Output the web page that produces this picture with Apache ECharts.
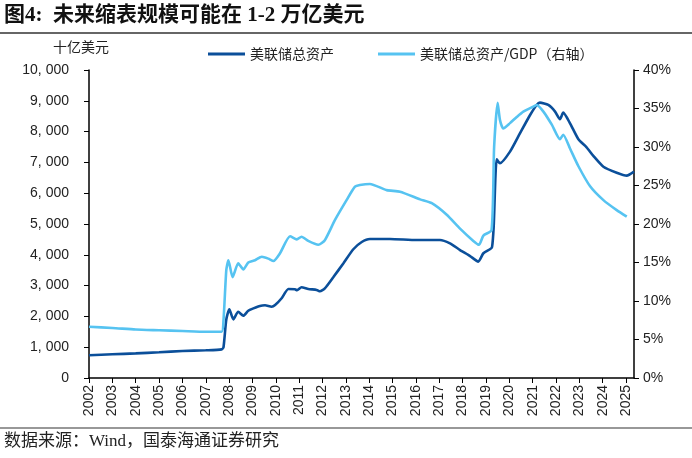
<!DOCTYPE html>
<html>
<head>
<meta charset="utf-8">
<script src="https://cdn.jsdelivr.net/npm/echarts@6/dist/echarts.min.js"></script>
<style>
  html, body { margin: 0; padding: 0; background: #fff; }
  #chart { width: 692px; height: 458px; }
</style>
</head>
<body>
<div id="chart"></div>
<script>
// 美联储总资产（十亿美元），x 为坐标轴上的年份位置
var assetYears = [2002.0, 2003.0, 2004.0, 2005.0, 2006.0, 2007.0, 2007.68, 2007.76, 2007.88, 2008.01,
    2008.18, 2008.39, 2008.61, 2008.82, 2009.04, 2009.32, 2009.54, 2009.82, 2009.97, 2010.25,
    2010.54, 2010.82, 2010.91, 2011.1, 2011.39, 2011.75, 2011.89, 2012.1, 2012.46, 2012.89,
    2013.32, 2013.68, 2014.03, 2014.89, 2016.03, 2017.03, 2017.46, 2017.89, 2018.32, 2018.67,
    2018.89, 2019.17, 2019.26, 2019.33, 2019.46, 2019.6, 2020.03, 2020.46, 2020.89, 2021.17,
    2021.31, 2021.67, 2021.96, 2022.17, 2022.31, 2022.6, 2022.96, 2023.31, 2023.6, 2024.03,
    2024.6, 2025.03, 2025.34];
var assetValues = [740, 770, 800, 835, 875, 900, 930, 1000, 1900, 2230,
    1905, 2150, 2020, 2185, 2260, 2340, 2360, 2315, 2370, 2590,
    2890, 2880, 2850, 2945, 2890, 2860, 2815, 2910, 3270, 3720,
    4180, 4415, 4515, 4515, 4480, 4480, 4370, 4155, 3960, 3780,
    4050, 4180, 4250, 4900, 7100, 6970, 7350, 7950, 8540, 8865,
    8940, 8865, 8650, 8400, 8615, 8270, 7750, 7490, 7210, 6860,
    6665, 6570, 6700];

// 美联储总资产/GDP（%，右轴）
var ratioYears = [2002.0, 2003.0, 2004.0, 2005.0, 2006.0, 2007.0, 2007.68, 2007.76, 2007.88, 2007.97,
    2008.15, 2008.39, 2008.61, 2008.82, 2009.11, 2009.4, 2009.68, 2009.9, 2010.18, 2010.61,
    2010.9, 2011.1, 2011.39, 2011.82, 2012.1, 2012.53, 2013.03, 2013.39, 2013.6, 2014.03,
    2014.75, 2015.32, 2016.18, 2016.68, 2017.32, 2017.89, 2018.46, 2018.7, 2018.89, 2019.24,
    2019.35, 2019.5, 2019.6, 2019.74, 2020.03, 2020.32, 2020.6, 2020.96, 2021.17, 2021.46,
    2021.82, 2022.17, 2022.31, 2022.6, 2022.96, 2023.46, 2024.03, 2024.6, 2025.03];
var ratioValues = [6.65, 6.5, 6.3, 6.2, 6.1, 6.0, 6.0, 7.5, 14.0, 15.3,
    13.1, 14.9, 14.1, 15.0, 15.3, 15.75, 15.5, 15.2, 16.2, 18.4,
    18.0, 18.35, 17.8, 17.3, 17.9, 20.5, 23.1, 24.85, 25.06, 25.2,
    24.4, 24.2, 23.2, 22.7, 21.2, 19.4, 17.8, 17.3, 18.5, 19.2,
    30.0, 35.75, 33.5, 32.4, 33.1, 33.9, 34.6, 35.15, 35.45, 34.6,
    32.9, 31.0, 31.6, 29.8, 27.5, 24.9, 23.1, 21.8, 20.95];

var seriesNames = ['美联储总资产', '美联储总资产/GDP（右轴）'];

function pairs(xs, ys) {
    var out = [];
    for (var i = 0; i < xs.length; i++) {
        out.push([xs[i], ys[i]]);
    }
    return out;
}

var axisFont = 'Liberation Sans, Arial, sans-serif';
var cjkFont = 'Noto Sans CJK SC, sans-serif';

var myChart = echarts.init(document.getElementById('chart'));
var option = {
    animation: false,
    backgroundColor: '#fff',
    grid: { left: 89, right: 58, top: 70, bottom: 80 },
    graphic: [
        { type: 'text', left: 4, top: 5,
          style: { text: '图4:  未来缩表规模可能在 1-2 万亿美元', fill: '#111',
                   font: 'bold 21px "Liberation Serif", "Noto Sans CJK SC", serif' } },
        { type: 'line', shape: { x1: 0, y1: 33, x2: 692, y2: 33 },
          style: { stroke: '#333', lineWidth: 1.5 } },
        { type: 'text', left: 53, top: 40,
          style: { text: '十亿美元', fill: '#222', font: '14px ' + cjkFont } },
        { type: 'line', shape: { x1: 0, y1: 428, x2: 692, y2: 428 },
          style: { stroke: '#333', lineWidth: 1.2 } },
        { type: 'text', left: 4, top: 433,
          style: { text: '数据来源：Wind，国泰海通证券研究', fill: '#222',
                   font: '17px "Liberation Serif", "Noto Sans CJK SC", serif' } }
    ],
    legend: {
        data: seriesNames,
        left: 203,
        top: 42,
        itemGap: 44,
        itemWidth: 37,
        itemHeight: 3,
        icon: 'rect',
        textStyle: { fontFamily: cjkFont, fontSize: 14, color: '#222' }
    },
    xAxis: {
        type: 'value',
        min: 2002,
        max: 2025.34,
        interval: 1,
        splitLine: { show: false },
        axisLine: { onZero: false, lineStyle: { color: '#000', width: 1.5 } },
        axisTick: { inside: false, length: 5, lineStyle: { color: '#000' } },
        axisLabel: {
            rotate: 90,
            showMaxLabel: false,
            fontFamily: axisFont,
            fontSize: 14,
            color: '#222',
            margin: 7,
            formatter: function (v) {
                return Math.abs(v - Math.round(v)) < 1e-6 ? String(Math.round(v)) : '';
            }
        }
    },
    yAxis: [
        {
            type: 'value',
            min: 0,
            max: 10000,
            interval: 1000,
            splitLine: { show: false },
            axisLine: { show: true, lineStyle: { color: '#000', width: 1.5 } },
            axisTick: { show: true, length: 5, lineStyle: { color: '#000' } },
            axisLabel: {
                fontFamily: axisFont,
                fontSize: 14,
                color: '#222',
                margin: 20,
                formatter: function (v) {
                    return v >= 1000 ? Math.floor(v / 1000) + ', ' + String(v % 1000).padStart(3, '0') : String(v);
                }
            }
        },
        {
            type: 'value',
            min: 0,
            max: 40,
            interval: 5,
            position: 'right',
            splitLine: { show: false },
            axisLine: { show: true, lineStyle: { color: '#000', width: 1.5 } },
            axisTick: { show: true, length: 5, lineStyle: { color: '#000' } },
            axisLabel: {
                fontFamily: axisFont,
                fontSize: 14,
                color: '#222',
                margin: 9,
                formatter: '{value}%'
            }
        }
    ],
    series: [
        {
            name: seriesNames[0],
            type: 'line',
            yAxisIndex: 0,
            showSymbol: false,
            smooth: 0.2,
            lineStyle: { color: '#0b4f9a', width: 2.6 },
            itemStyle: { color: '#0b4f9a' },
            data: pairs(assetYears, assetValues)
        },
        {
            name: seriesNames[1],
            type: 'line',
            yAxisIndex: 1,
            showSymbol: false,
            smooth: 0.2,
            lineStyle: { color: '#56c3f1', width: 2.6 },
            itemStyle: { color: '#56c3f1' },
            data: pairs(ratioYears, ratioValues)
        }
    ]
};
myChart.setOption(option);
</script>
</body>
</html>
